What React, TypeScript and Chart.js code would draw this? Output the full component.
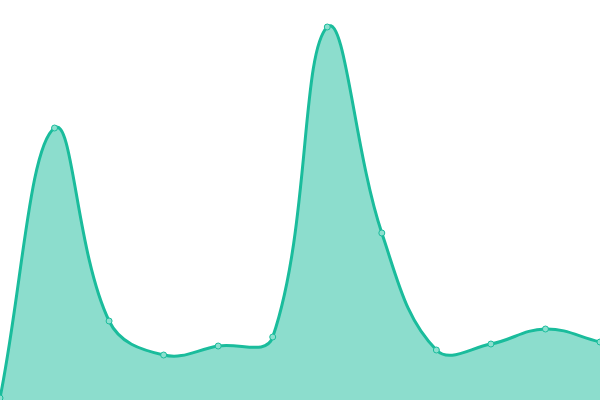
import React, { useEffect, useRef } from "react";
import { Chart, registerables } from "chart.js";

Chart.register(...registerables);

const labels = ["1", "2", "3", "4", "5", "6", "7", "8", "9", "10", "11", "12"];
const values = [2, 272, 79, 45, 54, 63, 373, 167, 50, 56, 71, 58];

export default function App() {
  const ref = useRef<HTMLCanvasElement | null>(null);
  useEffect(() => {
    document.body.style.margin = "0";
    const ctx = ref.current!.getContext("2d")!;
    const chart = new Chart(ctx, {
      type: "line",
      data: {
        labels,
        datasets: [
          {
            data: values,
            borderColor: "#1abc9c",
            backgroundColor: "rgba(26,188,156,0.5)",
            borderWidth: 3,
            fill: true,
            tension: 0.4,
            pointRadius: 3,
            pointBorderWidth: 1,
            pointBackgroundColor: "rgba(140,224,207,1)",
            pointBorderColor: "#1abc9c",
          },
        ],
      },
      options: {
        animation: false,
        responsive: false,
        layout: { padding: 0, autoPadding: false },
        plugins: { legend: { display: false }, tooltip: { enabled: false } },
        scales: {
          x: { display: false },
          y: { display: false, min: 0, max: 400 },
        },
      },
    });
    return () => chart.destroy();
  }, []);
  return (
    <div style={{ width: 600, height: 400 }}>
      <canvas ref={ref} width={600} height={400} style={{ display: "block" }} />
    </div>
  );
}
